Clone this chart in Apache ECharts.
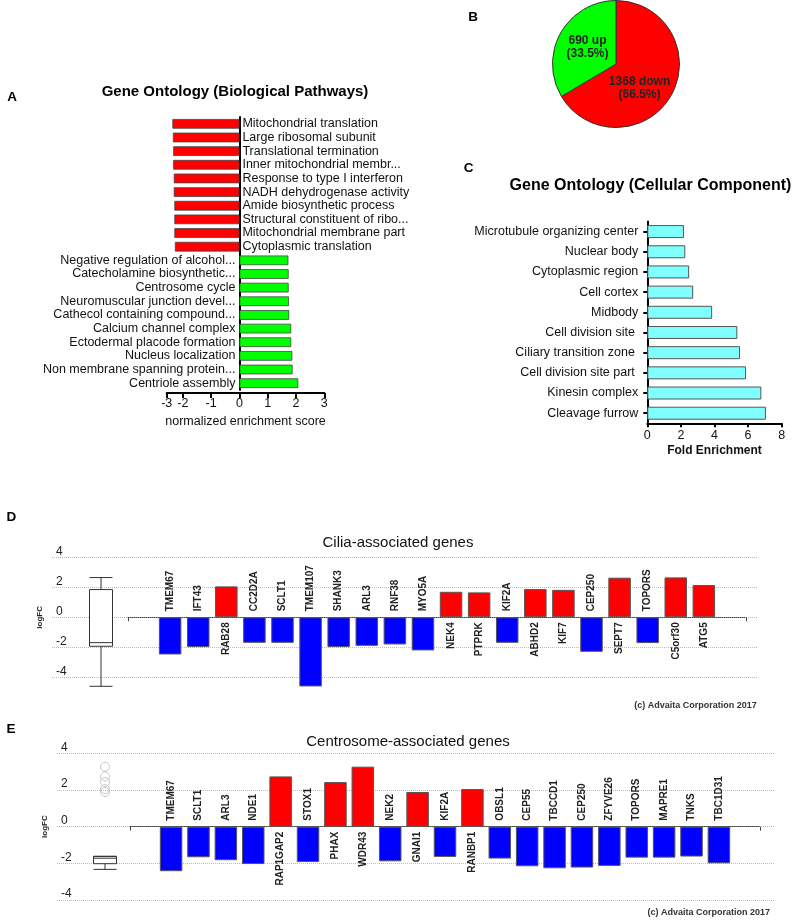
<!DOCTYPE html>
<html><head><meta charset="utf-8">
<script src="https://cdn.jsdelivr.net/npm/echarts@6/dist/echarts.min.js"></script>
<style>html,body{margin:0;padding:0;background:#fff}#c{width:796px;height:920px}</style>
</head><body><div id="c"></div>
<script>
const FONT = "'Liberation Sans', Arial, Helvetica, sans-serif";
const RED = '#FF0000', GREEN = '#00FF00', BLUE = '#0000FF', CYAN = '#80FFFF';

// ---- Panel A: Gene Ontology (Biological Pathways)
const bpTerms = [
  'Mitochondrial translation', 'Large ribosomal subunit', 'Translational termination',
  'Inner mitochondrial membr...', 'Response to type I interferon', 'NADH dehydrogenase activity',
  'Amide biosynthetic process', 'Structural constituent of ribo...', 'Mitochondrial membrane part',
  'Cytoplasmic translation',
  'Negative regulation of alcohol...', 'Catecholamine biosynthetic...', 'Centrosome cycle',
  'Neuromuscular junction devel...', 'Cathecol containing compound...', 'Calcium channel complex',
  'Ectodermal placode formation', 'Nucleus localization', 'Non membrane spanning protein...',
  'Centriole assembly'
];
const bpScores = [-2.37, -2.35, -2.34, -2.34, -2.32, -2.32, -2.30, -2.30, -2.30, -2.28,
  1.73, 1.74, 1.74, 1.75, 1.76, 1.83, 1.83, 1.87, 1.88, 2.08];
const bpTickValues = [-2.57, -2, -1, 0, 1, 2, 3];
const bpTickLabels = ['-3', '-2', '-1', '0', '1', '2', '3'];

// ---- Panel B: pie
const pieNames = ['down', 'up'];
const pieCounts = [1368, 690];

// ---- Panel C: Gene Ontology (Cellular Component)
const ccTerms = ['Microtubule organizing center', 'Nuclear body', 'Cytoplasmic region', 'Cell cortex',
  'Midbody', 'Cell division site ', 'Ciliary transition zone ', 'Cell division site part ',
  'Kinesin complex', 'Cleavage furrow'];
const ccFold = [2.18, 2.26, 2.49, 2.73, 3.86, 5.36, 5.52, 5.88, 6.79, 7.06];

// ---- Panel D: Cilia-associated genes
const ciliaGenes = ['TMEM67', 'IFT43', 'RAB28', 'CC2D2A', 'SCLT1', 'TMEM107', 'SHANK3', 'ARL3', 'RNF38',
  'MYO5A', 'NEK4', 'PTPRK', 'KIF2A', 'ABHD2', 'KIF7', 'CEP250', 'SEPT7', 'TOPORS', 'C5orf30', 'ATG5'];
const ciliaLogFC = [-2.48, -1.99, 2.06, -1.70, -1.70, -4.61, -1.99, -1.90, -1.81, -2.21,
  1.70, 1.66, -1.70, 1.88, 1.83, -2.30, 2.64, -1.72, 2.66, 2.15];
const ciliaBox = [-4.6, -1.93, -1.69, 1.85, 2.65];

// ---- Panel E: Centrosome-associated genes
const centroGenes = ['TMEM67', 'SCLT1', 'ARL3', 'NDE1', 'RAP1GAP2', 'STOX1', 'PHAX', 'WDR43', 'NEK2',
  'GNAI1', 'KIF2A', 'RANBP1', 'OBSL1', 'CEP55', 'TBCCD1', 'CEP250', 'ZFYVE26', 'TOPORS', 'MAPRE1',
  'TNKS', 'TBC1D31'];
const centroLogFC = [-2.43, -1.67, -1.83, -2.04, 2.74, -1.93, 2.43, 3.27, -1.89,
  1.89, -1.65, 2.05, -1.74, -2.16, -2.27, -2.23, -2.14, -1.69, -1.69, -1.63, -2.00];
const centroBox = [-2.33, -2.02, -1.72, -1.62, -1.62];
const centroOutliers = [3.27, 2.74, 2.43, 2.05, 1.89];

const logFCTickInterval = 2;

function geneBars(values) {
  const arr = values.map(v => ({
    value: v,
    itemStyle: { color: v > 0 ? RED : BLUE },
    label: v > 0
      ? { position: 'bottom', align: 'right', distance: 5 }
      : { position: 'top', align: 'left', distance: 6 }
  }));
  return ['-'].concat(arr, ['-']);
}

const chart = echarts.init(document.getElementById('c'), null, { renderer: 'canvas' });

const hidden = { show: false };
const geneLabel = {
  show: true, formatter: '{b}', rotate: 90, verticalAlign: 'middle',
  fontSize: 10, fontWeight: 'bold', color: '#222', fontFamily: FONT
};
function fullAxisY(min, max) {
  return {
    min: min, max: max, interval: logFCTickInterval,
    axisLine: hidden, axisTick: hidden,
    axisLabel: { inside: true, margin: 4, align: 'left', verticalAlign: 'bottom', fontSize: 12, color: '#222', fontFamily: FONT },
    splitLine: { show: true, lineStyle: { type: 'dotted', color: '#bbb', width: 1 } },
    name: 'logFC', nameLocation: 'middle', nameRotate: 90, nameGap: 7,
    nameTextStyle: { fontSize: 8, fontWeight: 'bold', color: '#222', fontFamily: FONT }
  };
}
function barXAxis(genes) {
  return {
    type: 'category', data: [''].concat(genes, ['']),
    axisLine: { show: true, onZero: true, lineStyle: { type: 'dotted', color: '#444', width: 1 } },
    axisTick: { show: true, interval: (i) => i === 0, length: 4, lineStyle: { color: '#444' } },
    axisLabel: hidden, splitLine: hidden
  };
}

const option = {
  animation: false,
  backgroundColor: '#fff',
  textStyle: { fontFamily: FONT },
  grid: [
    { left: 166.7, top: 117, width: 157.6, height: 273 },          // A
    { left: 647.3, top: 221.5, width: 134.4, height: 201.8 },       // C
    { left: 52, top: 557.3, width: 706, height: 120 },              // D full
    { left: 80, top: 542.3, width: 42, height: 150 },               // D box
    { left: 128, top: 542.3, width: 618, height: 150 },             // D bars
    { left: 57, top: 753.3, width: 718, height: 146.7 },            // E full
    { left: 84, top: 753.3, width: 42, height: 146.7 },             // E box
    { left: 130, top: 753.3, width: 630, height: 146.7 }            // E bars
  ],
  xAxis: [
    {
      gridIndex: 0, type: 'value', min: -2.57, max: 3, offset: 3,
      axisLine: { show: true, onZero: false, lineStyle: { color: '#000', width: 2 } },
      axisTick: { show: true, length: 5, customValues: bpTickValues, lineStyle: { color: '#000', width: 2 } },
      axisLabel: {
        customValues: bpTickValues, margin: 4, fontSize: 12.5, color: '#111', fontFamily: FONT,
        formatter: (v) => {
          let best = 0;
          bpTickValues.forEach((t, i) => { if (Math.abs(t - v) < Math.abs(bpTickValues[best] - v)) best = i; });
          return bpTickLabels[best];
        }
      },
      splitLine: hidden,
      name: 'normalized enrichment score', nameLocation: 'middle', nameGap: 22,
      nameTextStyle: { fontSize: 12.5, color: '#111', fontFamily: FONT }
    },
    {
      gridIndex: 1, type: 'value', min: 0, max: 8, interval: 2,
      axisLine: { show: true, lineStyle: { color: '#000', width: 2 } },
      axisTick: { show: true, length: 4, lineStyle: { color: '#000', width: 2 } },
      axisLabel: { margin: 6, fontSize: 12.5, color: '#111', fontFamily: FONT },
      splitLine: hidden,
      name: 'Fold Enrichment', nameLocation: 'middle', nameGap: 21,
      nameTextStyle: { fontSize: 12, fontWeight: 'bold', color: '#111', fontFamily: FONT }
    },
    { gridIndex: 2, type: 'value', min: 0, max: 1, show: false },
    { gridIndex: 3, type: 'category', data: ['logFC'], show: false },
    Object.assign({ gridIndex: 4 }, barXAxis(ciliaGenes)),
    { gridIndex: 5, type: 'value', min: 0, max: 1, show: false },
    { gridIndex: 6, type: 'category', data: ['logFC'], show: false },
    Object.assign({ gridIndex: 7 }, barXAxis(centroGenes))
  ],
  yAxis: [
    {
      gridIndex: 0, type: 'category', data: bpTerms, inverse: true,
      axisLine: { show: true, onZero: true, lineStyle: { color: '#000', width: 2 } },
      axisTick: hidden, axisLabel: hidden
    },
    {
      gridIndex: 1, type: 'category', data: ccTerms, inverse: true,
      axisLine: { show: true, lineStyle: { color: '#000', width: 2 } },
      axisTick: { show: true, alignWithLabel: true, length: 4, lineStyle: { color: '#000', width: 2 } },
      axisLabel: { margin: 9, fontSize: 12.5, color: '#111', fontFamily: FONT }
    },
    Object.assign({ gridIndex: 2, type: 'value' }, fullAxisY(-4, 4)),
    { gridIndex: 3, type: 'value', min: -5, max: 5, show: false },
    { gridIndex: 4, type: 'value', min: -5, max: 5, show: false },
    Object.assign({ gridIndex: 5, type: 'value' }, fullAxisY(-4, 4)),
    { gridIndex: 6, type: 'value', min: -4, max: 4, show: false },
    { gridIndex: 7, type: 'value', min: -4, max: 4, show: false }
  ],
  series: [
    {
      type: 'bar', xAxisIndex: 0, yAxisIndex: 0, barWidth: 9.7,
      data: bpScores.map(v => ({
        value: v,
        itemStyle: { color: v < 0 ? RED : GREEN },
        label: v < 0 ? { position: 'right', distance: 3 } : { position: 'left', distance: 4 }
      })),
      itemStyle: { borderColor: '#444', borderWidth: 0.8 },
      label: { show: true, formatter: '{b}', fontSize: 12.5, color: '#111', fontFamily: FONT }
    },
    {
      type: 'pie', center: [616, 64], radius: 63.5, startAngle: 90, clockwise: true,
      percentPrecision: 1,
      data: pieNames.map((n, i) => ({
        name: n, value: pieCounts[i],
        itemStyle: { color: i === 0 ? RED : GREEN },
        label: i === 0
          ? { formatter: '\n{c} {b}    \n({d}%)    ' }
          : { formatter: ' {c} {b}\n ({d}%)' }
      })),
      itemStyle: { borderColor: '#333', borderWidth: 1 },
      label: {
        show: true, position: 'inside',
        fontSize: 12, fontWeight: 'bold', color: '#222', lineHeight: 13, fontFamily: FONT
      },
      labelLine: hidden
    },
    {
      type: 'bar', xAxisIndex: 1, yAxisIndex: 1, barWidth: 13, data: ccFold,
      itemStyle: { color: CYAN, borderColor: '#555', borderWidth: 1 }
    },
    {
      type: 'boxplot', xAxisIndex: 3, yAxisIndex: 3, data: [ciliaBox], boxWidth: [23, 23],
      itemStyle: { color: '#fff', borderColor: '#333', borderWidth: 1 }
    },
    {
      type: 'bar', xAxisIndex: 4, yAxisIndex: 4, barWidth: 22.5, clip: false,
      data: geneBars(ciliaLogFC),
      itemStyle: { borderColor: '#555', borderWidth: 1 },
      label: geneLabel
    },
    {
      type: 'boxplot', xAxisIndex: 6, yAxisIndex: 6, data: [centroBox], boxWidth: [23, 23],
      itemStyle: { color: '#fff', borderColor: '#333', borderWidth: 1 }
    },
    {
      type: 'scatter', xAxisIndex: 6, yAxisIndex: 6, symbol: 'circle', symbolSize: 9,
      data: centroOutliers.map(v => [0, v]),
      itemStyle: { color: 'rgba(0,0,0,0)', borderColor: '#bbb', borderWidth: 1 }
    },
    {
      type: 'bar', xAxisIndex: 7, yAxisIndex: 7, barWidth: 22.5, clip: false,
      data: geneBars(centroLogFC),
      itemStyle: { borderColor: '#555', borderWidth: 1 },
      label: geneLabel
    }
  ],
  graphic: [
    { type: 'text', x: 12, y: 97, style: { text: 'A', font: 'bold 13.5px ' + FONT, fill: '#000', align: 'center', verticalAlign: 'middle' } },
    { type: 'text', x: 473, y: 17, style: { text: 'B', font: 'bold 13.5px ' + FONT, fill: '#000', align: 'center', verticalAlign: 'middle' } },
    { type: 'text', x: 468.5, y: 168.5, style: { text: 'C', font: 'bold 13.5px ' + FONT, fill: '#000', align: 'center', verticalAlign: 'middle' } },
    { type: 'text', x: 11.3, y: 517.5, style: { text: 'D', font: 'bold 13.5px ' + FONT, fill: '#000', align: 'center', verticalAlign: 'middle' } },
    { type: 'text', x: 11, y: 729.5, style: { text: 'E', font: 'bold 13.5px ' + FONT, fill: '#000', align: 'center', verticalAlign: 'middle' } },
    { type: 'text', x: 235, y: 92, style: { text: 'Gene Ontology (Biological Pathways)', font: 'bold 15px ' + FONT, fill: '#000', align: 'center', verticalAlign: 'middle' } },
    { type: 'text', x: 650.5, y: 186, style: { text: 'Gene Ontology (Cellular Component)', font: 'bold 16px ' + FONT, fill: '#000', align: 'center', verticalAlign: 'middle' } },
    { type: 'text', x: 398, y: 543, style: { text: 'Cilia-associated genes', font: '15px ' + FONT, fill: '#111', align: 'center', verticalAlign: 'middle' } },
    { type: 'text', x: 408, y: 742, style: { text: 'Centrosome-associated genes', font: '15px ' + FONT, fill: '#111', align: 'center', verticalAlign: 'middle' } },
    { type: 'text', x: 756.7, y: 705.7, style: { text: '(c) Advaita Corporation 2017', font: 'bold 9px ' + FONT, fill: '#333', align: 'right', verticalAlign: 'middle' } },
    { type: 'text', x: 770, y: 912.7, style: { text: '(c) Advaita Corporation 2017', font: 'bold 9px ' + FONT, fill: '#333', align: 'right', verticalAlign: 'middle' } }
  ]
};
chart.setOption(option);
</script>
</body></html>
